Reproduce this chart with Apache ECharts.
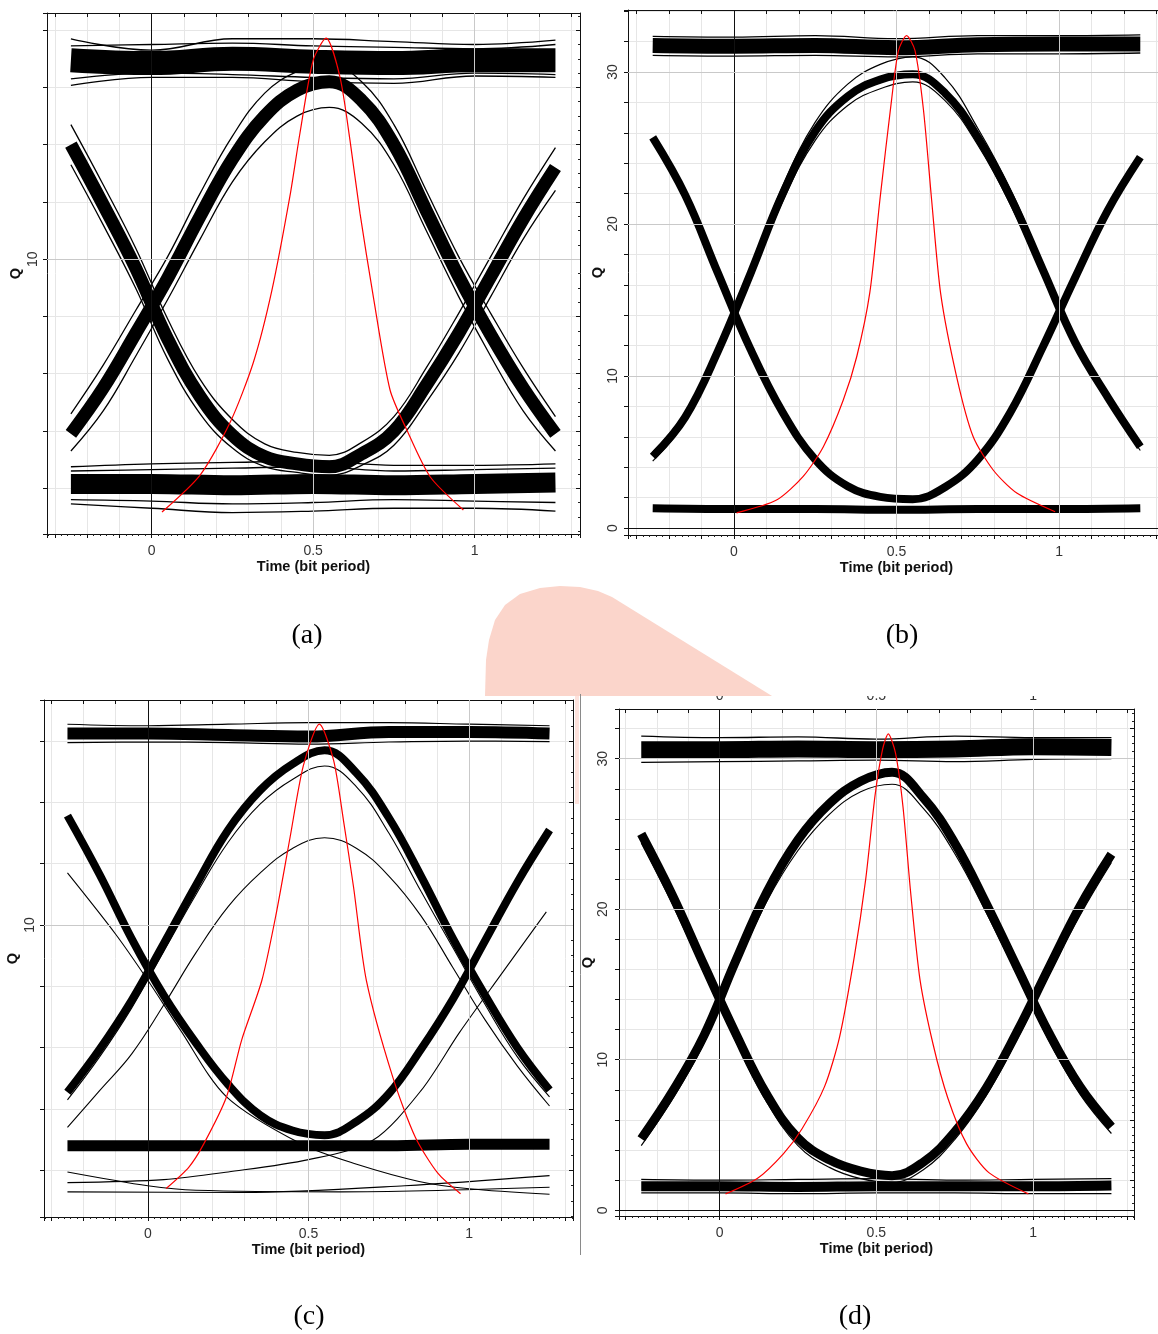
<!DOCTYPE html>
<html lang="en">
<head>
<meta charset="UTF-8">
<title>Eye diagrams</title>
<script src="https://cdn.jsdelivr.net/npm/echarts@6/dist/echarts.min.js"></script>
<style>
  html, body { margin: 0; background: #fff; }
  #main { width: 1158px; height: 1334px; }
</style>
</head>
<body>
<div id="main"></div>
<script>
const tEye = [-0.25, -0.15, -0.05, 0.05, 0.15, 0.25, 0.35, 0.45, 0.55, 0.65, 0.75, 0.85, 0.95, 1.05, 1.15, 1.25]
const tFlat = [-0.25, 0, 0.25, 0.5, 0.75, 1, 1.25]

// ---- (a)
const aHighMid = [16.95, 16.85, 17.0, 16.9, 16.85, 16.95, 16.95]
const aHighTop = [17.7, 17.3, 17.7, 17.7, 17.6, 17.5, 17.65]
const aHighTop2 = [17.45, 17.5, 17.55, 17.45, 17.4, 17.35, 17.5]
const aHighBot2 = [16.3, 16.5, 16.45, 16.35, 16.3, 16.5, 16.45]
const aHighBot = [16.07, 16.35, 16.35, 16.2, 16.14, 16.4, 16.35]
const aLowMid = [2.15, 2.15, 2.1, 2.15, 2.1, 2.15, 2.2]
const aLowTop = [2.75, 2.85, 2.9, 2.95, 2.8, 2.8, 2.85]
const aLowTop2 = [2.6, 2.65, 2.7, 2.75, 2.6, 2.65, 2.7]
const aLowBot2 = [1.6, 1.55, 1.45, 1.5, 1.6, 1.55, 1.5]
const aLowBot = [1.45, 1.3, 1.15, 1.2, 1.3, 1.3, 1.2]
const aCap = [3.9, 5.5, 7.4, 9.35, 11.5, 13.5, 15.0, 15.9, 16.2, 15.55, 14.0, 11.7, 9.4, 7.35, 5.5, 3.9]
const aCapHi = [4.6, 6.3, 8.2, 10.1, 12.3, 14.3, 15.8, 16.55, 16.8, 16.2, 14.7, 12.4, 10.1, 8.1, 6.2, 4.5]
const aCapLo = [3.3, 4.7, 6.6, 8.6, 10.7, 12.7, 14.1, 15.0, 15.3, 14.75, 13.3, 11.0, 8.7, 6.6, 4.7, 3.3]
const aCup = [14.0, 11.9, 9.7, 7.2, 5.2, 3.85, 3.1, 2.85, 2.75, 3.2, 4.0, 5.6, 7.4, 9.4, 11.4, 13.2]
const aCupHi = [14.7, 12.6, 10.4, 7.9, 5.8, 4.4, 3.55, 3.25, 3.15, 3.6, 4.5, 6.2, 8.1, 10.1, 12.1, 13.9]
const aCupLo = [13.3, 11.2, 9.0, 6.5, 4.6, 3.4, 2.75, 2.55, 2.45, 2.8, 3.5, 5.0, 6.7, 8.7, 10.7, 12.4]
const aQ = [[0.032, 1.17], [0.15, 2.46], [0.243, 4.3], [0.315, 6.4], [0.372, 8.9], [0.428, 12.2],
  [0.459, 14.4], [0.5, 16.95], [0.54, 17.72], [0.583, 16.36], [0.614, 14.15], [0.645, 11.6], [0.686, 8.7],
  [0.738, 5.43], [0.79, 4.03], [0.862, 2.4], [0.965, 1.24]]

// ---- (b)
const bHighMid = [31.75, 31.7, 31.75, 31.6, 31.8, 31.85, 31.85]
const bHighTop = [32.35, 32.3, 32.4, 32.2, 32.4, 32.4, 32.45]
const bHighBot = [31.1, 31.05, 31.1, 31.0, 31.2, 31.2, 31.25]
const bLowMid = [1.3, 1.25, 1.25, 1.2, 1.25, 1.25, 1.3]
const bCap = [4.7, 7.3, 11.6, 16.7, 22.0, 26.1, 28.4, 29.5, 29.85, 28.6, 25.7, 21.8, 17.0, 12.2, 8.6, 5.35]
const bCapHi = [5.0, 7.6, 11.9, 17.1, 22.5, 26.7, 29.2, 30.5, 31.0, 29.6, 26.3, 22.3, 17.4, 12.5, 8.9, 5.6]
const bCapLo = [4.4, 7.0, 11.3, 16.3, 21.5, 25.5, 27.8, 28.9, 29.35, 28.1, 25.2, 21.3, 16.6, 11.9, 8.3, 5.1]
const bCup = [25.7, 21.9, 16.8, 11.8, 7.6, 4.5, 2.75, 2.05, 1.9, 2.7, 4.5, 7.6, 11.9, 16.5, 20.9, 24.4]
const bQ = [[0.008, 1.0], [0.131, 1.84], [0.213, 3.4], [0.275, 5.35], [0.336, 8.4], [0.378, 11.3], [0.418, 15.5],
  [0.449, 21.6], [0.485, 28.2], [0.506, 31.4], [0.531, 32.4], [0.557, 31.4], [0.583, 27.5], [0.608, 21.6],
  [0.636, 15.4], [0.685, 9.95], [0.736, 6.0], [0.798, 3.8], [0.87, 2.3], [0.988, 1.07]]

// ---- (c)
const cHighMid = [16.25, 16.25, 16.2, 16.15, 16.3, 16.3, 16.25]
const cHighTop = [16.55, 16.5, 16.55, 16.6, 16.6, 16.55, 16.5]
const cHighBot = [15.95, 15.97, 15.95, 15.9, 15.97, 16.0, 15.98]
const cLowMid = [2.8, 2.8, 2.8, 2.8, 2.8, 2.85, 2.85]
const cCap = [4.55, 5.95, 7.55, 9.4, 11.3, 13.1, 14.4, 15.25, 15.7, 14.95, 13.5, 11.6, 9.55, 7.7, 6.0, 4.62]
const cCapLo = [4.3, 5.7, 7.3, 9.15, 11.0, 12.7, 13.95, 14.75, 15.19, 14.5, 13.0, 11.1, 9.25, 7.4, 5.7, 4.4]
const cCapThin = [3.4, 4.6, 5.8, 7.4, 9.1, 10.6, 11.7, 12.5, 12.85, 12.5, 11.6, 10.3, 8.6, 6.9, 5.4, 4.1]
const cCup = [13.57, 11.65, 9.55, 7.7, 6.15, 4.8, 3.8, 3.3, 3.15, 3.6, 4.5, 5.95, 7.6, 9.5, 11.4, 13.1]
const cFall = [[-0.25, 11.7], [-0.1, 9.7], [0, 8.2], [0.1, 6.6], [0.245, 4.4], [0.48, 2.85], [0.65, 2.2],
  [0.844, 1.64], [1.0, 1.4], [1.25, 1.22]]
const cRise = [[-0.25, 1.6], [0.05, 1.7], [0.25, 1.95], [0.5, 2.35], [0.7, 2.98], [0.85, 4.6], [0.97, 6.5],
  [1.1, 8.4], [1.24, 10.43]]
const cFloor1 = [[-0.25, 1.95], [0.0, 1.5], [0.15, 1.35], [0.6, 1.3], [1.25, 1.45]]
const cFloor2 = [[-0.25, 1.3], [0.3, 1.28], [0.8, 1.5], [1.25, 1.83]]
const cQ = [[0.057, 1.41], [0.128, 2.11], [0.175, 2.88], [0.245, 4.4], [0.292, 6.25], [0.355, 8.2], [0.4, 10.4],
  [0.443, 12.88], [0.484, 15.2], [0.534, 16.55], [0.578, 15.38], [0.609, 13.4], [0.64, 11.25], [0.68, 8.2],
  [0.762, 5.05], [0.832, 3.09], [0.903, 1.9], [0.973, 1.24]]

// ---- (d)
const dHighMid = [30.6, 30.6, 30.65, 30.6, 30.65, 30.8, 30.75]
const dHighTop = [31.5, 31.4, 31.45, 31.3, 31.5, 31.4, 31.4]
const dHighBot = [29.75, 29.8, 29.85, 29.9, 29.8, 29.95, 30.0]
const dLowMid = [1.6, 1.6, 1.55, 1.6, 1.6, 1.6, 1.65]
const dLowTop = [2.05, 2.0, 2.05, 2.1, 2.0, 2.05, 2.1]
const dLowBot = [1.15, 1.15, 1.1, 1.15, 1.15, 1.1, 1.1]
const dCap = [4.75, 7.9, 11.6, 16.5, 21.1, 24.6, 27.0, 28.5, 29.1, 27.4, 24.4, 20.4, 16.1, 11.8, 8.2, 5.55]
const dCapLo = [4.3, 7.4, 11.1, 16.0, 20.5, 23.9, 26.3, 27.8, 28.3, 26.7, 23.7, 19.8, 15.6, 11.3, 7.7, 5.1]
const dCup = [25.0, 20.9, 16.3, 11.8, 7.7, 4.8, 3.35, 2.6, 2.3, 3.2, 5.2, 8.1, 11.9, 16.1, 20.2, 23.65]
const dCupLo = [24.4, 20.3, 15.8, 11.3, 7.2, 4.3, 2.85, 2.1, 1.85, 2.7, 4.7, 7.6, 11.4, 15.6, 19.6, 23.1]
const dQ = [[0.019, 1.09], [0.12, 2.11], [0.204, 3.77], [0.263, 5.42], [0.335, 8.23], [0.383, 11.54], [0.43, 16.88],
  [0.466, 21.98], [0.496, 27.58], [0.52, 30.63], [0.538, 31.65], [0.561, 30.38], [0.585, 26.81], [0.609, 21.21],
  [0.639, 15.36], [0.681, 11.03], [0.728, 7.46], [0.788, 4.41], [0.859, 2.5], [0.985, 1.09]]

const xLabels = [0, 0.5, 1]

let chart = echarts.init(document.getElementById('main'))

const panels = [
  { left: 47, top: 13, width: 533, height: 521, x: [-0.324, 1.326], y: [0.4, 18.6], ySplit: 9, yLabels: [10], labelGap: 7, qGap: 24 },
  { left: 628, top: 10, width: 537, height: 525, x: [-0.326, 1.326], y: [-0.46, 34.08], ySplit: 17, yLabels: [0, 10, 20, 30], labelGap: 8, qGap: 22 },
  { left: 44, top: 700, width: 529, height: 517, x: [-0.323, 1.323], y: [0.48, 17.34], ySplit: 8, yLabels: [10], labelGap: 7, qGap: 24 },
  { left: 619, top: 709, width: 515, height: 507, x: [-0.321, 1.322], y: [-0.38, 33.3], ySplit: 17, yLabels: [0, 10, 20, 30], labelGap: 9, qGap: 23 }
]

const near = (v, list) => list.some(t => Math.abs(v - t) < 1e-6)
const pairs = (xs, ys) => xs.map((x, i) => [x, ys[i]])

function trace(g, data, width, color, z, smooth) {
  return {
    type: 'line', xAxisIndex: g * 2, yAxisIndex: g * 2, data: data,
    smooth: smooth || 0.4, symbol: 'none', silent: true, z: z || 2,
    lineStyle: { color: color || '#000', width: width }
  }
}
const red = (g, data) => trace(g, data, 1.2, '#ff0000', 5, 0.25)

let grids = [], xAxes = [], yAxes = [], series = []
const tickFont = { fontSize: 14, color: '#333', fontFamily: 'Liberation Sans' }
const nameFont = { fontWeight: 'bold', fontSize: 14.5, color: '#111', fontFamily: 'Liberation Sans' }

panels.forEach((p, g) => {
  grids.push({ left: p.left, top: p.top, width: p.width, height: p.height, containLabel: false, outerBoundsMode: 'none' })
  xAxes.push({
    gridIndex: g, type: 'value', min: p.x[0], max: p.x[1], splitNumber: 16,
    axisLine: { show: true, onZero: false, lineStyle: { color: '#111' } },
    axisTick: { show: true, length: 4, lineStyle: { color: '#111' } },
    minorTick: { show: true, splitNumber: 5, length: 2, lineStyle: { color: '#222' } },
    axisLabel: Object.assign({ margin: 10, formatter: v => near(v, xLabels) ? String(v) : '' }, tickFont),
    splitLine: { show: true, lineStyle: { color: '#e6e6e6' } },
    name: 'Time (bit period)', nameLocation: 'middle', nameGap: 25, nameTextStyle: nameFont
  })
  xAxes.push({
    gridIndex: g, type: 'value', position: 'top', min: p.x[0], max: p.x[1], splitNumber: 16,
    axisLine: { show: true, onZero: false, lineStyle: { color: '#111' } },
    axisTick: { show: true, inside: true, length: 4, lineStyle: { color: '#111' } },
    axisLabel: g === 3
      ? Object.assign({ margin: 6, formatter: v => near(v, xLabels) ? String(v) : '' }, tickFont)
      : { show: false },
    splitLine: { show: false }
  })
  yAxes.push({
    gridIndex: g, type: 'value', min: p.y[0], max: p.y[1], splitNumber: p.ySplit,
    axisLine: { show: true, onZero: false, lineStyle: { color: '#111' } },
    axisTick: { show: true, length: 4, lineStyle: { color: '#111' } },
    axisLabel: Object.assign({ rotate: 90, margin: p.labelGap, formatter: v => near(v, p.yLabels) ? String(Math.round(v)) : '' }, tickFont),
    splitLine: { show: true, lineStyle: { color: '#e6e6e6' } },
    name: 'Q', nameLocation: 'middle', nameRotate: 90, nameGap: p.qGap, nameTextStyle: nameFont
  })
  yAxes.push({
    gridIndex: g, type: 'value', position: 'right', min: p.y[0], max: p.y[1], splitNumber: p.ySplit,
    axisLine: { show: true, onZero: false, lineStyle: { color: '#111' } },
    axisTick: { show: true, inside: true, length: 4, lineStyle: { color: '#111' } },
    minorTick: { show: true, splitNumber: 4, length: 2, lineStyle: { color: '#222' } },
    axisLabel: { show: false }, splitLine: { show: false }
  })

  // darker guide lines: x = 0 axis, major grid at 0.5 / 1 and at labelled Q values
  let guide = [{ xAxis: 0, lineStyle: { color: '#111', width: 1, type: 'solid' } },
    { xAxis: 0.5, lineStyle: { color: '#c9c9c9', width: 1, type: 'solid' } },
    { xAxis: 1, lineStyle: { color: '#c9c9c9', width: 1, type: 'solid' } }]
  p.yLabels.forEach(v => guide.push({ yAxis: v, lineStyle: { color: v === 0 ? '#111' : '#c9c9c9', width: 1, type: 'solid' } }))
  series.push({
    type: 'line', xAxisIndex: g * 2, yAxisIndex: g * 2, data: [], z: 1, silent: true,
    markLine: { silent: true, symbol: 'none', label: { show: false }, animation: false, data: guide }
  })
})

// (a)
series.push(
  trace(0, pairs(tFlat, aHighMid), 24), trace(0, pairs(tFlat, aHighTop), 1.3), trace(0, pairs(tFlat, aHighBot), 1.3),
  trace(0, pairs(tFlat, aHighTop2), 1.3), trace(0, pairs(tFlat, aHighBot2), 1.3),
  trace(0, pairs(tFlat, aLowMid), 20), trace(0, pairs(tFlat, aLowTop), 1.3), trace(0, pairs(tFlat, aLowBot), 1.3),
  trace(0, pairs(tFlat, aLowTop2), 1.3), trace(0, pairs(tFlat, aLowBot2), 1.3),
  trace(0, pairs(tEye, aCap), 13), trace(0, pairs(tEye, aCapHi), 1.3), trace(0, pairs(tEye, aCapLo), 1.3),
  trace(0, pairs(tEye, aCup), 13), trace(0, pairs(tEye, aCupHi), 1.3), trace(0, pairs(tEye, aCupLo), 1.3),
  red(0, aQ)
)
// (b)
series.push(
  trace(1, pairs(tFlat, bHighMid), 15), trace(1, pairs(tFlat, bHighTop), 1.3), trace(1, pairs(tFlat, bHighBot), 1.3),
  trace(1, pairs(tFlat, bLowMid), 8),
  trace(1, pairs(tEye, bCap), 8), trace(1, pairs(tEye, bCapHi), 1.2), trace(1, pairs(tEye, bCapLo), 1.2),
  trace(1, pairs(tEye, bCup), 8),
  red(1, bQ)
)
// (c)
series.push(
  trace(2, pairs(tFlat, cHighMid), 12), trace(2, pairs(tFlat, cHighTop), 1.2), trace(2, pairs(tFlat, cHighBot), 1.2),
  trace(2, pairs(tFlat, cLowMid), 11),
  trace(2, pairs(tEye, cCap), 8), trace(2, pairs(tEye, cCapLo), 1.1), trace(2, pairs(tEye, cCapThin), 1.1),
  trace(2, pairs(tEye, cCup), 8),
  trace(2, cFall, 1.1, '#000', 2, 0.3), trace(2, cRise, 1.1, '#000', 2, 0.3),
  trace(2, cFloor1, 1.1, '#000', 2, 0.3), trace(2, cFloor2, 1.1, '#000', 2, 0.3),
  red(2, cQ)
)
// (d)
series.push(
  trace(3, pairs(tFlat, dHighMid), 17), trace(3, pairs(tFlat, dHighTop), 1.3), trace(3, pairs(tFlat, dHighBot), 1.3),
  trace(3, pairs(tFlat, dLowMid), 10), trace(3, pairs(tFlat, dLowTop), 1.2), trace(3, pairs(tFlat, dLowBot), 1.2),
  trace(3, pairs(tEye, dCap), 9), trace(3, pairs(tEye, dCapLo), 1.2),
  trace(3, pairs(tEye, dCup), 9), trace(3, pairs(tEye, dCupLo), 1.2),
  red(3, dQ)
)

const captionStyle = { fontSize: 28, fontFamily: 'Liberation Serif', fill: '#000', textAlign: 'center', textVerticalAlign: 'middle' }

// rounded watermark outline
const markShape = [[485, 696], [486, 660], [489, 640], [495, 620], [505, 605], [520, 594], [540, 588], [560, 586],
  [580, 587], [598, 591], [612, 597], [772, 696]]

let option = {
  animation: false,
  backgroundColor: '#fff',
  grid: grids,
  xAxis: xAxes,
  yAxis: yAxes,
  series: series,
  graphic: [
    // strip that hides the upper half of the stray top labels of (d)
    { type: 'rect', z: 100, shape: { x: 583, y: 585, width: 575, height: 111 }, style: { fill: '#fff' } },
    { type: 'polygon', z: 101, shape: { points: markShape }, style: { fill: '#fbd5cb' } },
    { type: 'rect', z: 101, shape: { x: 575, y: 696, width: 4, height: 108 }, style: { fill: '#fde2dc' } },
    { type: 'line', z: 102, shape: { x1: 580.5, y1: 694, x2: 580.5, y2: 1255 }, style: { stroke: '#8a8a8a', lineWidth: 1 } },
    { type: 'text', z: 103, x: 307, y: 636, style: Object.assign({ text: '(a)' }, captionStyle) },
    { type: 'text', z: 103, x: 902, y: 636, style: Object.assign({ text: '(b)' }, captionStyle) },
    { type: 'text', z: 103, x: 309, y: 1317, style: Object.assign({ text: '(c)' }, captionStyle) },
    { type: 'text', z: 103, x: 855, y: 1317, style: Object.assign({ text: '(d)' }, captionStyle) }
  ]
}

chart.setOption(option)
</script>
</body>
</html>
